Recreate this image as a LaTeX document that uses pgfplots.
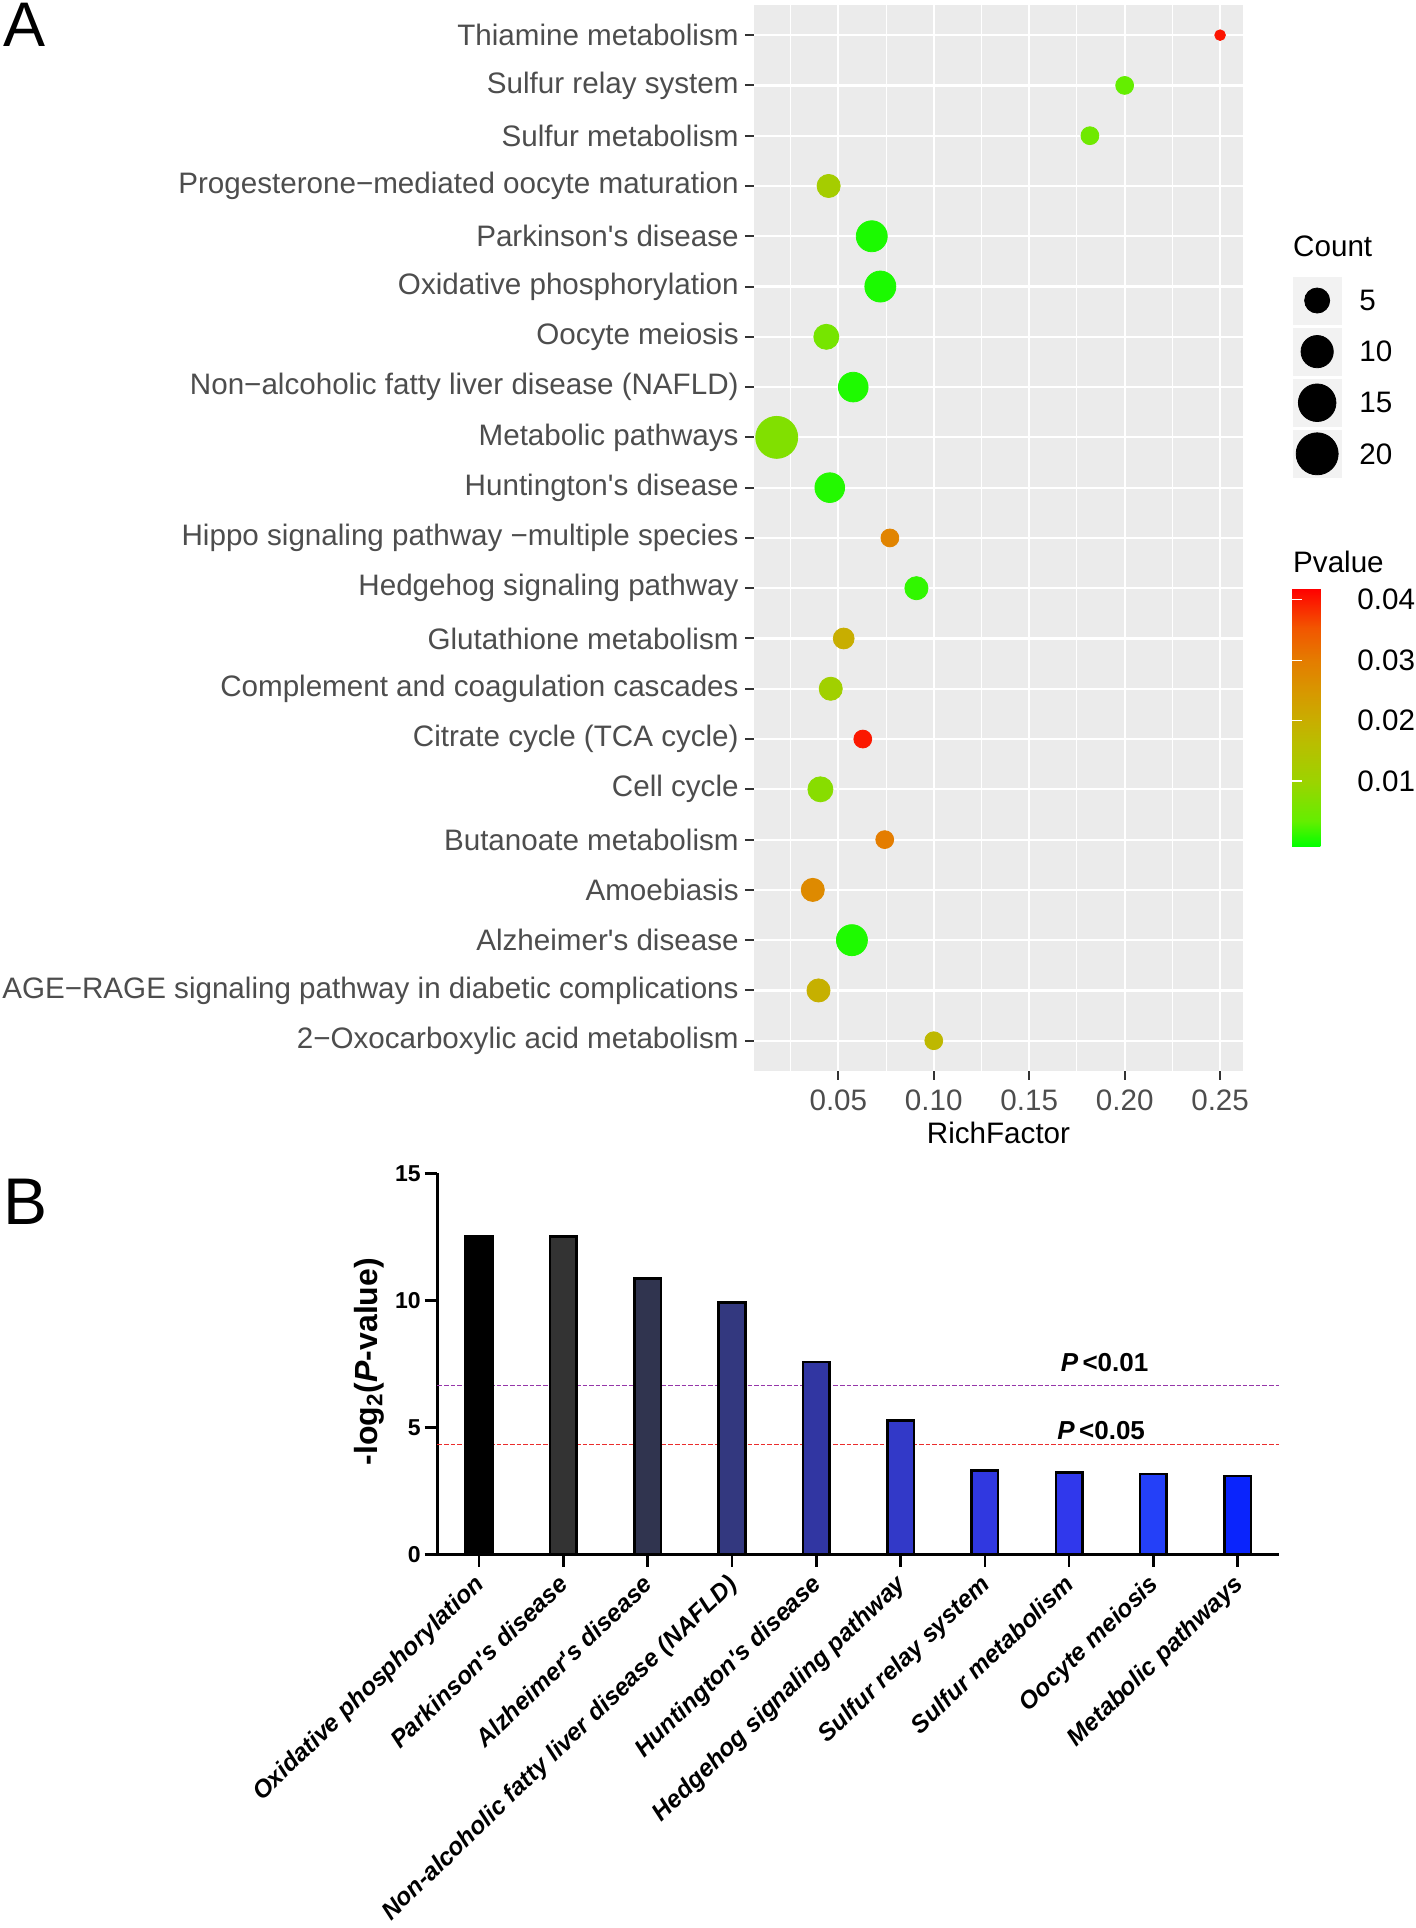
\documentclass[border=0pt]{standalone}
\usepackage{pgfplots}
\pgfplotsset{compat=1.18}
\usepackage{fontspec}
\setmainfont{Liberation Sans}
\definecolor{ggbg}{HTML}{EBEBEB}
\definecolor{gg20}{HTML}{333333}
\definecolor{gg30}{HTML}{4D4D4D}
\definecolor{ggkey}{HTML}{F2F2F2}
\definecolor{c1}{HTML}{000000}
\definecolor{c2}{HTML}{333333}
\definecolor{c3}{HTML}{30344F}
\definecolor{c4}{HTML}{33387F}
\definecolor{c5}{HTML}{3136A2}
\definecolor{c6}{HTML}{3239C8}
\definecolor{c7}{HTML}{3038E0}
\definecolor{c8}{HTML}{3038EC}
\definecolor{c9}{HTML}{2440F8}
\definecolor{c10}{HTML}{0A24FC}
\definecolor{purpline}{RGB}{150,55,170}
\definecolor{redline}{RGB}{235,45,45}
\newcommand{\fa}{\fontsize{14.8}{17}\selectfont}
\newcommand{\q}{\textquotesingle}

\pgfplotstableread{
rf y count p
0.25 21 1 0.0403
0.20 20 2 0.0034
0.1818 19 2 0.0047
0.0449 18 4 0.0119
0.0675 17 9 0.00025
0.0720 16 9 0.00025
0.0437 15 5 0.0055
0.0578 14 8 0.0004
0.0177 13 20 0.0068
0.0455 12 8 0.0006
0.0770 11 2 0.0286
0.0909 10 4 0.0012
0.0528 9 3 0.0200
0.0460 8 4 0.0110
0.0628 7 2 0.0400
0.0406 6 5 0.0076
0.0743 5 2 0.0298
0.0366 4 4 0.0273
0.0571 3 9 0.0004
0.0396 2 4 0.0195
0.1000 1 2 0.0175
}\richdata

\pgfplotstableread{
x y count
0.5 3.5 5
0.5 2.5 10
0.5 1.5 15
0.5 0.5 20
}\countdata

\begin{document}
\begin{tikzpicture}
\useasboundingbox (0,0) rectangle (708pt,964pt);

% ---------------- Panel A ----------------
\begin{axis}[
  at={(377pt,428.55pt)}, anchor=south west,
  width=244.5pt, height=532.95pt, scale only axis,
  xmin=0.0058, xmax=0.262, ymin=0.4, ymax=21.6,
  axis background/.style={fill=ggbg},
  axis line style={draw=none},
  xtick={0.05,0.10,0.15,0.20,0.25},
  xticklabels={0.05,0.10,0.15,0.20,0.25},
  minor xtick={0.025,0.075,0.125,0.175,0.225},
  ytick={1,...,21},
  yticklabels={
    {2\char"2212 Oxocarboxylic acid metabolism},
    {AGE\char"2212 RAGE signaling pathway in diabetic complications},
    {Alzheimer\q s disease},
    {Amoebiasis},
    {Butanoate metabolism},
    {Cell cycle},
    {Citrate cycle (TCA cycle)},
    {Complement and coagulation cascades},
    {Glutathione metabolism},
    {Hedgehog signaling pathway},
    {Hippo signaling pathway \char"2212 multiple species},
    {Huntington\q s disease},
    {Metabolic pathways},
    {Non\char"2212 alcoholic fatty liver disease (NAFLD)},
    {Oocyte meiosis},
    {Oxidative phosphorylation},
    {Parkinson\q s disease},
    {Progesterone\char"2212 mediated oocyte maturation},
    {Sulfur metabolism},
    {Sulfur relay system},
    {Thiamine metabolism}},
  xmajorgrids, xminorgrids, ymajorgrids,
  major grid style={white, line width=1.1pt},
  minor grid style={white, line width=0.55pt},
  xtick pos=bottom, ytick pos=left,
  tick align=outside,
  major tick length=4.5pt, minor tick length=0pt,
  tick style={color=gg20, line width=1pt},
  ticklabel style={font=\fa, text=gg30},
  yticklabel style={inner sep=0pt, xshift=-3pt},
  xticklabel style={inner sep=0pt, yshift=-4.6pt},
  colormap={gr}{rgb255(0cm)=(0,255,0); rgb255(1cm)=(100,238,0); rgb255(2.5cm)=(155,212,0); rgb255(4cm)=(185,190,0); rgb255(5cm)=(202,172,0); rgb255(6cm)=(215,152,0); rgb255(7.2cm)=(228,125,0); rgb255(8.5cm)=(242,85,0); rgb255(10cm)=(255,0,0)},
  point meta min=-0.0009, point meta max=0.0418,
  colorbar,
  colorbar shift/.style={xshift=0pt},
  colorbar style={
    at={(parent axis.north east)}, anchor=north west,
    xshift=24.5pt, yshift=-291.9pt,
    width=25pt, height=129.05pt, scale only axis,
    axis line style={draw=none},
    scaled y ticks=false,
    ytick={0.01,0.02,0.03,0.04},
    yticklabels={0.01,0.02,0.03,0.04},
    yticklabel pos=right, ytick pos=both,
    tick align=inside, major tick length=5pt,
    tick style={white, line width=0.6pt},
    yticklabel style={font=\fa, text=black, inner sep=0pt, xshift=7.5pt, anchor=west},
  },
  clip=false,
]
\addplot[scatter, only marks, mark=*,
  scatter/use mapped color={draw=mapped color, fill=mapped color},
  visualization depends on={1.565*(1.71+5*sqrt((\thisrow{count}-1)/19)) \as \msz},
  scatter/@pre marker code/.append style={/tikz/mark size=\msz},
  point meta=\thisrow{p}]
  table[x=rf, y=y] {\richdata};
\end{axis}

\node[anchor=base, font=\fa] at (499.25pt,392.15pt) {RichFactor};
\node[anchor=base west, font=\fa, inner sep=0pt] at (646.4pt,835.6pt) {Count};
\node[anchor=base west, font=\fa, inner sep=0pt] at (646.4pt,677.75pt) {Pvalue};
\node[anchor=base west, font=\fontsize{31.5}{34}\selectfont, inner sep=0pt] at (1.6pt,940.65pt) {A};
\node[anchor=base west, font=\fontsize{33}{36}\selectfont, inner sep=0pt] at (1.6pt,351.5pt) {B};

% ---------------- Count legend ----------------
\begin{axis}[
  at={(646.4pt,724.3pt)}, anchor=south west,
  width=24.35pt, height=102.2pt, scale only axis,
  xmin=0, xmax=1, ymin=0, ymax=4,
  axis line style={draw=none},
  xtick=\empty,
  ytick={0.5,1.5,2.5,3.5}, yticklabels={20,15,10,5},
  yticklabel pos=right, ytick pos=right,
  major tick length=0pt,
  yticklabel style={font=\fa, text=black, inner sep=0pt, xshift=8.75pt, anchor=west},
  clip=false,
]
\fill[ggkey] (axis cs:0,0.0305) rectangle (axis cs:1,0.9695);
\fill[ggkey] (axis cs:0,1.0305) rectangle (axis cs:1,1.9695);
\fill[ggkey] (axis cs:0,2.0305) rectangle (axis cs:1,2.9695);
\fill[ggkey] (axis cs:0,3.0305) rectangle (axis cs:1,3.9695);
\addplot[scatter, only marks, mark=*,
  scatter/use mapped color={draw=black, fill=black},
  visualization depends on={1.565*(1.71+5*sqrt((\thisrow{count}-1)/19)) \as \msz},
  scatter/@pre marker code/.append style={/tikz/mark size=\msz}]
  table[x=x, y=y] {\countdata};
\end{axis}

% ---------------- Panel B ----------------
\begin{axis}[
  at={(218.65pt,186.85pt)}, anchor=south west,
  width=421pt, height=190.5pt, scale only axis,
  xmin=-0.495, xmax=9.493, ymin=0, ymax=15,
  axis lines*=left,
  axis line style={line width=1.3pt, black},
  xtick={0,...,9},
  xticklabels={
    {Oxidative phosphorylation},
    {Parkinson\q s disease},
    {Alzheimer\q s disease},
    {Non-alcoholic fatty liver disease (NAFLD)},
    {Huntington\q s disease},
    {Hedgehog signaling pathway},
    {Sulfur relay system},
    {Sulfur metabolism},
    {Oocyte meiosis},
    {Metabolic pathways}},
  ytick={0,5,10,15},
  /pgf/number format/assume math mode=true,
  tick align=outside,
  major tick length=6.3pt,
  tick style={black, line width=1.3pt},
  yticklabel style={font=\fontsize{11.5}{13}\selectfont\bfseries, inner sep=0pt, xshift=-1.8pt},
  xticklabel style={font=\fontsize{12.3}{14}\selectfont\bfseries\itshape, rotate=44, anchor=north east, inner sep=0pt, xshift=-4.2pt, yshift=0.1pt},
  clip=false,
]
\addplot[draw=purpline, dash pattern=on 2.3pt off 1pt, line width=0.65pt] coordinates {(-0.495,6.644) (9.493,6.644)};
\addplot[draw=redline, dash pattern=on 2.3pt off 1pt, line width=0.65pt] coordinates {(-0.495,4.322) (9.493,4.322)};
\addplot[ybar, bar shift=0pt, bar width=0.316, fill=c1, draw=black, line width=1.3pt] coordinates {(0,12.52)};
\addplot[ybar, bar shift=0pt, bar width=0.316, fill=c2, draw=black, line width=1.3pt] coordinates {(1,12.52)};
\addplot[ybar, bar shift=0pt, bar width=0.316, fill=c3, draw=black, line width=1.3pt] coordinates {(2,10.87)};
\addplot[ybar, bar shift=0pt, bar width=0.316, fill=c4, draw=black, line width=1.3pt] coordinates {(3,9.92)};
\addplot[ybar, bar shift=0pt, bar width=0.316, fill=c5, draw=black, line width=1.3pt] coordinates {(4,7.57)};
\addplot[ybar, bar shift=0pt, bar width=0.316, fill=c6, draw=black, line width=1.3pt] coordinates {(5,5.26)};
\addplot[ybar, bar shift=0pt, bar width=0.316, fill=c7, draw=black, line width=1.3pt] coordinates {(6,3.30)};
\addplot[ybar, bar shift=0pt, bar width=0.316, fill=c8, draw=black, line width=1.3pt] coordinates {(7,3.21)};
\addplot[ybar, bar shift=0pt, bar width=0.316, fill=c9, draw=black, line width=1.3pt] coordinates {(8,3.16)};
\addplot[ybar, bar shift=0pt, bar width=0.316, fill=c10, draw=black, line width=1.3pt] coordinates {(9,3.08)};
\node[anchor=base, font=\fontsize{13}{15}\selectfont\bfseries, inner sep=0pt] at (axis cs:7.42,7.19) {\textit{P}\,<0.01};
\node[anchor=base, font=\fontsize{13}{15}\selectfont\bfseries, inner sep=0pt] at (axis cs:7.38,4.5) {\textit{P}\,<0.05};
\end{axis}
\node[rotate=90, font=\fontsize{16}{18}\selectfont\bfseries] at (184.5pt,283.15pt) {-log\textsubscript{2}(\textit{P}-value)};
\end{tikzpicture}
\end{document}
